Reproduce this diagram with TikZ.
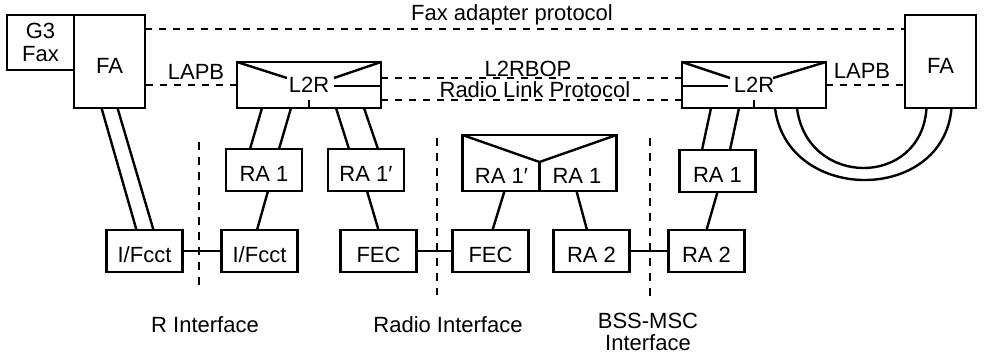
\documentclass[tikz,border=0pt]{standalone}
\usepackage{fontspec}
\setmainfont{Liberation Sans}
\usetikzlibrary{positioning}

\begin{document}
\begin{tikzpicture}[
  x=1pt,y=-1pt,
  every node/.style={font=\fontsize{22}{23}\selectfont},
  frame/.style={draw,line width=2.6pt,inner sep=0pt,outer sep=0pt},
  box/.style={frame,text height=23pt,text depth=0pt},
  fabox/.style={box,minimum width=71pt,minimum height=93pt},
  l2rbox/.style={frame,minimum width=144pt,minimum height=46pt},
  unit/.style={box,minimum width=76pt,minimum height=42pt},
  lbl/.style={inner sep=0pt},
  wire/.style={line width=2.4pt},
  proto/.style={line width=2.4pt,dash pattern=on 7pt off 7pt},
  iface/.style={line width=2.8pt,dash pattern=on 8pt off 7pt}
]
\useasboundingbox (0,0) rectangle (985,354);

% top row
\node[fabox] (faL) at (109.5,61.5) {FA};
\node[frame,align=center,minimum width=67pt,minimum height=55pt,
      anchor=north east] (g3) at (faL.north west) {G3\\Fax};
\node[l2rbox,anchor=south west] (l2rL) at ([xshift=92pt]faL.south east) {L2R};
\node[l2rbox,anchor=south west] (l2rR) at ([xshift=301pt]l2rL.south east) {L2R};
\node[fabox,anchor=south west] (faR) at ([xshift=79pt]l2rR.south east) {FA};

% bottom row
\node[unit] (ifc1) at (144.5,251) {I/Fcct};
\node[unit,right=39pt of ifc1] (ifc2) {I/Fcct};
\node[unit,right=43pt of ifc2] (fec1) {FEC};
\node[unit,right=36pt of fec1] (fec2) {FEC};
\node[unit,right=25pt of fec2] (ra2a) {RA 2};
\node[unit,right=39pt of ra2a] (ra2b) {RA 2};

% rate adaptors
\node[unit,above=39pt of ifc2,xshift=4.5pt] (ra1a) {RA 1};
\node[unit,right=26pt of ra1a] (ra1p) {RA 1′};
\node[unit,above=38pt of ra2b,xshift=11pt] (ra1b) {RA 1};
\node[frame,minimum width=154pt,minimum height=56pt,anchor=south west]
      (mid) at ([xshift=10pt,yshift=39pt]fec2.north west) {};
\node[lbl] (midp) at ([shift={(-38pt,-12.5pt)}]mid.center) {RA 1′};
\node[lbl] (midr) at ([shift={(37.5pt,-12.5pt)}]mid.center) {RA 1};

% box markings
\draw[wire] (l2rL.north west) -- ++(50pt,-16pt);
\draw[wire] (l2rL.north east) -- ++(-47pt,-16pt);
\draw[wire] ([yshift=-24pt]l2rL.north east) -- ++(-47pt,0pt);
\draw[wire] (l2rL.south) -- ++(0pt,8pt);
\draw[wire] (l2rR.north west) -- ++(48pt,-16pt);
\draw[wire] ([yshift=-24pt]l2rR.north west) -- ++(46pt,0pt);
\draw[wire] (l2rR.north east) -- ++(-53pt,-16pt);
\draw[wire] (l2rR.south) -- ++(0pt,8pt);
\draw[wire] (mid.north west) -- ([yshift=-27pt]mid.north) -- (mid.north east);
\draw[wire] ([yshift=-27pt]mid.north) -- (mid.south);

% protocols
\draw[proto] ([yshift=32.5pt]faL.east) -- ([yshift=32.5pt]faR.west);
\draw[proto] (l2rL.west) -- (l2rL.west -| faL.east);
\draw[proto] (l2rR.east) -- (l2rR.east -| faR.west);
\draw[proto] ([yshift=7pt]l2rL.east) -- ([yshift=7pt]l2rR.west);
\draw[proto] ([yshift=-15pt]l2rL.east) -- ([yshift=-15pt]l2rR.west);
\node[lbl] (fap) at (512,15) {Fax adapter protocol};
\node[lbl] (lapbL) at (196,72) {LAPB};
\node[lbl] (lapbR) at (862,71) {LAPB};
\node[lbl] (bop) at (528,69) {L2RBOP};
\node[lbl] (rlp) at (535,90) {Radio Link Protocol};

% links
\draw[wire] ([xshift=-8pt]faL.south) -- ([xshift=-8pt]ifc1.north);
\draw[wire] ([xshift=8pt]faL.south) -- ([xshift=9pt]ifc1.north);
\draw[wire] ([xshift=-47pt]l2rL.south) -- ([xshift=-14pt]ra1a.north);
\draw[wire] ([xshift=-18pt]l2rL.south) -- ([xshift=15pt]ra1a.north);
\draw[wire] ([xshift=27pt]l2rL.south) -- ([xshift=-17pt]ra1p.north);
\draw[wire] ([xshift=55pt]l2rL.south) -- ([xshift=12pt]ra1p.north);
\draw[wire] ([xshift=4pt]ra1a.south) -- ([xshift=-2.5pt]ifc2.north);
\draw[wire] ([xshift=1pt]ra1p.south) -- (fec1.north);
\draw[wire] (ifc1) -- (ifc2);
\draw[wire] (fec1) -- (fec2);
\draw[wire] (ra2a) -- (ra2b);
\draw[wire] ([xshift=-35pt]mid.south) -- ([xshift=2pt]fec2.north);
\draw[wire] ([xshift=37pt]mid.south) -- ([xshift=-4.5pt]ra2a.north);
\draw[wire] ([xshift=-43pt]l2rR.south) -- ([xshift=-15.5pt]ra1b.north);
\draw[wire] ([xshift=-15pt]l2rR.south) -- ([xshift=12.5pt]ra1b.north);
\draw[wire] (ra1b.south) -- (ra2b.north);
\draw[wire] ([xshift=21pt]l2rR.south) .. controls +(12pt,-96pt) and +(-8pt,-96pt) .. ([xshift=11pt]faR.south);
\draw[wire] ([xshift=43pt]l2rR.south) .. controls +(10pt,-80pt) and +(-5pt,-80pt) .. ([xshift=-14pt]faR.south);

% interfaces
\draw[iface] (199,142) -- (199,287);
\draw[iface] (437,138) -- (437,295);
\draw[iface] (650,138) -- (650,297);
\node[lbl] (rif) at (205,325) {R Interface};
\node[lbl] (radif) at (448,325) {Radio Interface};
\node[lbl,align=center,anchor=north] (bssif) at (648,313) {BSS-MSC\\[-1pt]Interface};
\end{tikzpicture}
\end{document}
